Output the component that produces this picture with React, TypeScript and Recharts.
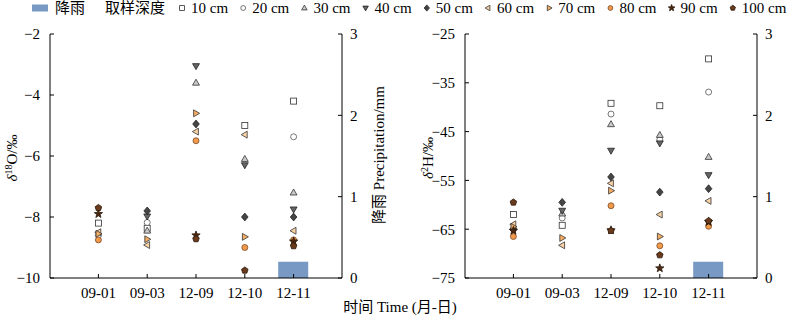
import { ComposedChart, Bar, Scatter, XAxis, YAxis } from "recharts";

// sampling dates and rainfall
const dates = ["09-01", "09-03", "12-09", "12-10", "12-11"];
const precipitation = [0, 0, 0, 0, 0.2];
const depths = ["10 cm", "20 cm", "30 cm", "40 cm", "50 cm", "60 cm", "70 cm", "80 cm", "90 cm", "100 cm"];

// δ18O (‰) per depth, by date
const o18D10 = [-8.2, -8.37, null, -5.0, -4.2];
const o18D20 = [-8.6, -8.18, null, null, -5.37];
const o18D30 = [null, -8.45, -3.6, -6.1, -7.2];
const o18D40 = [null, -7.98, -3.05, -6.3, -7.75];
const o18D50 = [null, -7.8, -4.95, -8.0, -8.0];
const o18D60 = [-8.5, -8.92, -5.2, -5.3, -8.45];
const o18D70 = [-8.55, -8.73, -4.6, -8.65, null];
const o18D80 = [-8.75, null, -5.5, -9.0, -8.75];
const o18D90 = [-7.9, null, -8.6, null, -8.8];
const o18D100 = [-7.7, null, -8.72, -9.75, -8.95];

// δ2H (‰) per depth, by date
const h2D10 = [-62, -64.2, -39.2, -39.7, -30.1];
const h2D20 = [-65, -62.7, -41.4, -46.7, -36.9];
const h2D30 = [null, -61.8, -43.5, -45.7, -50.2];
const h2D40 = [null, -61.2, -48.9, -47.4, -53.9];
const h2D50 = [-65, -59.5, -54.3, -57.4, -56.7];
const h2D60 = [-64, -68.3, -55.6, -62.0, -59.2];
const h2D70 = [-64.5, -66.8, -57.1, -66.5, null];
const h2D80 = [-66.5, null, -60.2, -68.4, -64.4];
const h2D90 = [-65.3, null, -65.2, -73.0, -63.5];
const h2D100 = [-59.5, null, -65.3, -70.3, -63.3];

const o18Ticks = [-10, -8, -6, -4, -2];
const h2Ticks = [-75, -65, -55, -45, -35, -25];
const precipTicks = [0, 1, 2, 3];

const o18Series = [o18D10, o18D20, o18D30, o18D40, o18D50, o18D60, o18D70, o18D80, o18D90, o18D100];
const h2Series = [h2D10, h2D20, h2D30, h2D40, h2D50, h2D60, h2D70, h2D80, h2D90, h2D100];

const serif = "'Liberation Serif', 'Times New Roman', 'Noto Sans CJK SC', serif";
const barColor = "#7899c3";

const markerStyles = [
  { shape: "square", fill: "#fff", stroke: "#333" },
  { shape: "circle", fill: "#fff", stroke: "#555" },
  { shape: "up", fill: "#c9c9c9", stroke: "#333" },
  { shape: "down", fill: "#666", stroke: "#222" },
  { shape: "diamond", fill: "#454545", stroke: "#222" },
  { shape: "left", fill: "#fbd2a6", stroke: "#333" },
  { shape: "right", fill: "#f6ad64", stroke: "#333" },
  { shape: "circle", fill: "#f29a4c", stroke: "#7a4a25" },
  { shape: "star", fill: "#4a2814", stroke: "#2a1608" },
  { shape: "pentagon", fill: "#6a3a1c", stroke: "#2a1608" },
];

function poly(pts: number[][]) {
  return pts.map((p) => p.join(",")).join(" ");
}

function Marker({ s, cx, cy, r }: { s: any; cx: number; cy: number; r: number }) {
  const common = { fill: s.fill, stroke: s.stroke, strokeWidth: 0.8 };
  switch (s.shape) {
    case "square":
      return <rect x={cx - r} y={cy - r} width={2 * r} height={2 * r} {...common} />;
    case "circle":
      return <circle cx={cx} cy={cy} r={r} {...common} />;
    case "up":
      return <polygon points={poly([[cx, cy - r * 1.2], [cx + r * 1.15, cy + r * 0.8], [cx - r * 1.15, cy + r * 0.8]])} {...common} />;
    case "down":
      return <polygon points={poly([[cx, cy + r * 1.2], [cx + r * 1.15, cy - r * 0.8], [cx - r * 1.15, cy - r * 0.8]])} {...common} />;
    case "diamond":
      return <polygon points={poly([[cx, cy - r * 1.3], [cx + r * 1.1, cy], [cx, cy + r * 1.3], [cx - r * 1.1, cy]])} {...common} />;
    case "left":
      return <polygon points={poly([[cx - r * 1.2, cy], [cx + r * 0.8, cy - r * 1.15], [cx + r * 0.8, cy + r * 1.15]])} {...common} />;
    case "right":
      return <polygon points={poly([[cx + r * 1.2, cy], [cx - r * 0.8, cy - r * 1.15], [cx - r * 0.8, cy + r * 1.15]])} {...common} />;
    case "star": {
      const pts: number[][] = [];
      for (let i = 0; i < 10; i++) {
        const rr = i % 2 === 0 ? r * 1.45 : r * 0.6;
        const a = -Math.PI / 2 + (i * Math.PI) / 5;
        pts.push([cx + rr * Math.cos(a), cy + rr * Math.sin(a)]);
      }
      return <polygon points={poly(pts)} {...common} />;
    }
    default: {
      const pts: number[][] = [];
      for (let i = 0; i < 5; i++) {
        const a = -Math.PI / 2 + (i * 2 * Math.PI) / 5;
        pts.push([cx + r * 1.15 * Math.cos(a), cy + r * 1.15 * Math.sin(a)]);
      }
      return <polygon points={poly(pts)} {...common} />;
    }
  }
}

function buildRows(series: (number | null)[][]) {
  return dates.map((date, i) => {
    const row: any = { date, precip: precipitation[i] };
    series.forEach((arr, k) => {
      row["d" + k] = arr[i];
    });
    return row;
  });
}

const minus = (v: number) => String(v).replace("-", "\u2212");
const tickStyle = { fill: "#000", fontSize: 15, fontFamily: serif };

function IsoChart({
  series,
  domain,
  ticks,
  leftWidth,
  rightWidth,
  yLabel,
  labelX,
  showPrecipLabel,
}: {
  series: (number | null)[][];
  domain: number[];
  ticks: number[];
  leftWidth: number;
  rightWidth: number;
  yLabel: any;
  labelX: number;
  showPrecipLabel: boolean;
}) {
  const rows = buildRows(series);
  return (
    <ComposedChart width={400} height={321} data={rows} margin={{ top: 34, right: 0, bottom: 0, left: 0 }}>
      <XAxis
        dataKey="date"
        type="category"
        allowDuplicatedCategory={false}
        padding={{ left: 24, right: 24 }}
        height={43}
        interval={0}
        tickSize={-4}
        tickMargin={13}
        tick={tickStyle}
        axisLine={{ stroke: "#000" }}
        tickLine={{ stroke: "#000" }}
      />
      <YAxis
        yAxisId="l"
        width={leftWidth}
        domain={domain}
        ticks={ticks}
        interval={0}
        tickSize={-4}
        tickMargin={14}
        tickFormatter={minus}
        tick={tickStyle}
        axisLine={{ stroke: "#000" }}
        tickLine={{ stroke: "#000" }}
        label={() => (
          <text transform={`translate(${labelX},158) rotate(-90)`} textAnchor="middle" fontFamily={serif} fontSize={15} fill="#000">
            {yLabel}
          </text>
        )}
      />
      <YAxis
        yAxisId="r"
        orientation="right"
        width={rightWidth}
        domain={[0, 3]}
        ticks={precipTicks}
        interval={0}
        tickSize={-4}
        tickMargin={12}
        tick={tickStyle}
        axisLine={{ stroke: "#000" }}
        tickLine={{ stroke: "#000" }}
        label={() =>
          showPrecipLabel ? (
            <text transform="translate(384,155) rotate(-90)" textAnchor="middle" fontFamily={serif} fontSize={15} fill="#000">
              降雨  Precipitation/mm
            </text>
          ) : (
            <g />
          )
        }
      />
      <Bar yAxisId="r" dataKey="precip" fill={barColor} barSize={30} isAnimationActive={false} />
      {markerStyles.map((s, k) => (
        <Scatter
          key={k}
          yAxisId="l"
          dataKey={"d" + k}
          name={depths[k]}
          isAnimationActive={false}
          shape={(p: any) =>
            p.cy == null || Number.isNaN(p.cy) || p.payload?.["d" + k] == null ? (
              <g />
            ) : (
              <Marker s={s} cx={p.cx} cy={p.cy} r={3} />
            )
          }
        />
      ))}
    </ComposedChart>
  );
}

export default function App() {
  return (
    <div style={{ position: "absolute", left: 0, top: 0, width: 800, height: 321, background: "#fff", overflow: "hidden" }}>
      <div style={{ position: "absolute", left: 0, top: 0 }}>
        <IsoChart
          series={o18Series}
          domain={[-10, -2]}
          ticks={o18Ticks}
          leftWidth={50}
          rightWidth={58}
          labelX={17}
          showPrecipLabel={true}
          yLabel={
            <>
              <tspan fontStyle="italic">δ</tspan>
              <tspan dy={-5} fontSize={10}>18</tspan>
              <tspan dy={5}>O/‰</tspan>
            </>
          }
        />
      </div>
      <div style={{ position: "absolute", left: 400, top: 0 }}>
        <IsoChart
          series={h2Series}
          domain={[-75, -25]}
          ticks={h2Ticks}
          leftWidth={65}
          rightWidth={43}
          labelX={33}
          showPrecipLabel={false}
          yLabel={
            <>
              <tspan fontStyle="italic">δ</tspan>
              <tspan dy={-5} fontSize={10}>2</tspan>
              <tspan dy={5}>H/‰</tspan>
            </>
          }
        />
      </div>
      <svg width={800} height={321} style={{ position: "absolute", left: 0, top: 0, pointerEvents: "none" }}>
        <rect x={32} y={4.5} width={16} height={7} fill={barColor} />
        <text x={55} y={13} fontFamily={serif} fontSize={15} fill="#000">降雨</text>
        <text x={105} y={13} fontFamily={serif} fontSize={15} fill="#000">取样深度</text>
        {depths.map((d, k) => {
          const x = 182 + k * 61.2;
          return (
            <g key={d}>
              <Marker s={markerStyles[k]} cx={x} cy={8} r={2.4} />
              <text x={x + 9} y={13} fontFamily={serif} fontSize={15} fill="#000">{d}</text>
            </g>
          );
        })}
        <text x={400} y={312} textAnchor="middle" fontFamily={serif} fontSize={15} fill="#000">时间 Time (月-日)</text>
      </svg>
    </div>
  );
}
